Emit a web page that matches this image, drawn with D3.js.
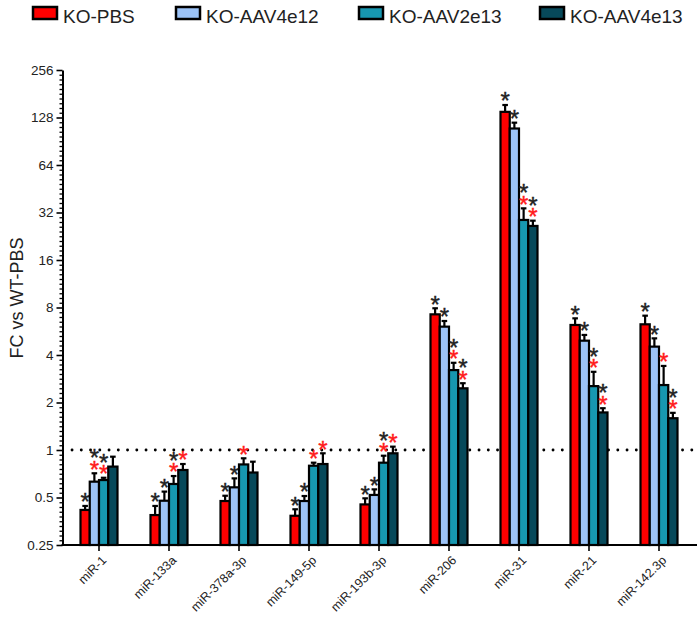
<!DOCTYPE html>
<html>
<head>
<meta charset="utf-8">
<script src="https://cdn.jsdelivr.net/npm/d3@7"></script>
<style>
  html, body { margin: 0; padding: 0; background: #fff; }
  svg { display: block; font-family: "Liberation Sans", Arial, sans-serif; }
</style>
</head>
<body>
<svg id="chart" width="700" height="620"></svg>
<script>
// ---- data ----
const categories = ["miR-1", "miR-133a", "miR-378a-3p", "miR-149-5p", "miR-193b-3p", "miR-206", "miR-31", "miR-21", "miR-142.3p"];
const seriesNames = ["KO-PBS", "KO-AAV4e12", "KO-AAV2e13", "KO-AAV4e13"];
const seriesColors = ["#ff0000", "#9cc3f7", "#1797b0", "#07495a"];

const koPBS      = [0.417, 0.387, 0.475, 0.383, 0.452, 7.24, 139, 6.2, 6.26];
const koAAV4e12  = [0.63, 0.477, 0.58, 0.475, 0.519, 6.05, 109, 4.93, 4.52];
const koAAV2e13  = [0.645, 0.609, 0.81, 0.795, 0.831, 3.21, 28.7, 2.54, 2.58];
const koAAV4e13  = [0.785, 0.747, 0.72, 0.815, 0.953, 2.46, 26.3, 1.73, 1.59];

// upper end of error bars
const errPBS     = [0.442, 0.442, 0.513, 0.421, 0.494, 7.91, 153.6, 6.83, 7.1];
const errAAV4e12 = [0.712, 0.545, 0.661, 0.511, 0.563, 6.57, 118.7, 5.36, 5.1];
const errAAV2e13 = [0.667, 0.684, 0.886, 0.831, 0.92, 3.57, 34.0, 3.13, 3.41];
const errAAV4e13 = [0.907, 0.815, 0.843, 0.953, 1.05, 2.65, 28.4, 1.84, 1.72];

// significance marks: k = black star (vs WT), r = red star (vs KO-PBS); listed top to bottom
const starsPBS     = ["k", "k", "k", "k", "k", "k", "k", "k", "k"];
const starsAAV4e12 = ["kr", "k", "k", "k", "k", "k", "k", "k", "k"];
const starsAAV2e13 = ["kr", "kr", "r", "r", "kr", "kr", "kr", "kr", "r"];
const starsAAV4e13 = ["", "r", "", "r", "r", "kr", "kr", "kr", "kr"];

const yTickValues = [0.25, 0.5, 1, 2, 4, 8, 16, 32, 64, 128, 256];
const refLine = 1;

const values = [koPBS, koAAV4e12, koAAV2e13, koAAV4e13];
const errs = [errPBS, errAAV4e12, errAAV2e13, errAAV4e13];
const stars = [starsPBS, starsAAV4e12, starsAAV2e13, starsAAV4e13];

// ---- drawing ----
const svg = d3.select("#chart");

const y = d3.scaleLog().base(2).domain([0.25, 256]).range([545, 70]);
const x0 = d3.scaleBand().domain(categories).range([64, 694]).padding(0);
const groupW = 37;
const x1 = d3.scaleBand().domain(seriesNames)
  .range([(x0.bandwidth() - groupW) / 2, (x0.bandwidth() + groupW) / 2]).padding(0);

const axisX = 62.5;

// minor ticks
const minorVals = [];
for (let k = 0; k < 10; k++) for (let j = 1; j < 10; j++) minorVals.push(0.25 * Math.pow(2, k + j / 10));

svg.append("g").attr("transform", `translate(${axisX},0)`)
  .call(d3.axisLeft(y).tickValues(minorVals).tickSize(3).tickFormat(""))
  .call(g => g.select(".domain").remove())
  .call(g => g.selectAll("line").attr("stroke", "#000").attr("stroke-width", 1.3));

const yAxisG = svg.append("g").attr("transform", `translate(${axisX},0)`)
  .call(d3.axisLeft(y).tickValues(yTickValues).tickSize(6).tickSizeOuter(0).tickPadding(3)
    .tickFormat(d => String(d)));
yAxisG.select(".domain").attr("stroke", "#000").attr("stroke-width", 2);
yAxisG.selectAll("line").attr("stroke", "#000").attr("stroke-width", 1.6);
yAxisG.selectAll("text").attr("font-size", 13.5).attr("fill", "#222")
  .attr("font-family", "'Liberation Sans', Arial, sans-serif");

// y label
svg.append("text")
  .attr("transform", "translate(23,298) rotate(-90)")
  .attr("text-anchor", "middle")
  .attr("font-size", 18).attr("fill", "#222")
  .text("FC vs WT-PBS");

// dotted reference line
svg.append("line")
  .attr("x1", 72).attr("x2", 700)
  .attr("y1", y(refLine)).attr("y2", y(refLine))
  .attr("stroke", "#000").attr("stroke-width", 2.8)
  .attr("stroke-linecap", "round")
  .attr("stroke-dasharray", "0.1 9.15");

// bars
const groups = svg.append("g").selectAll("g.grp")
  .data(categories).join("g")
  .attr("transform", d => `translate(${x0(d)},0)`);

const starSize = 24;
const starGap = 11.5;

groups.each(function (cat, ci) {
  const g = d3.select(this);
  seriesNames.forEach((s, si) => {
    const v = values[si][ci];
    const e = errs[si][ci];
    const bx = x1(s);
    const bw = x1.bandwidth();
    const cx = bx + bw / 2;
    // error bar
    g.append("line").attr("x1", cx).attr("x2", cx)
      .attr("y1", y(v)).attr("y2", y(e))
      .attr("stroke", "#000").attr("stroke-width", 2.2);
    g.append("line").attr("x1", cx - 2.8).attr("x2", cx + 2.8)
      .attr("y1", y(e)).attr("y2", y(e))
      .attr("stroke", "#000").attr("stroke-width", 2.2);
    // bar
    g.append("rect")
      .attr("x", bx).attr("width", bw)
      .attr("y", y(v)).attr("height", y(0.25) - y(v))
      .attr("fill", seriesColors[si])
      .attr("stroke", "#000").attr("stroke-width", 2.2);
    // stars: one text element per bar, one tspan per mark
    const marks = stars[si][ci].split("");
    if (marks.length) {
      const n = marks.length;
      const bottomCenter = y(e) - 9;
      const topBaseline = bottomCenter - (n - 1) * starGap + starSize * 0.56;
      const t = g.append("text")
        .attr("text-anchor", "middle")
        .attr("font-size", starSize)
        .attr("stroke-width", 0.4);
      marks.forEach((m, mi) => {
        const col = m === "r" ? "#ff1a1a" : "#222";
        t.append("tspan")
          .attr("x", cx)
          .attr("y", topBaseline + mi * starGap)
          .attr("fill", col).attr("stroke", col)
          .text("*");
      });
    }
  });
});

// x axis
const xAxisG = svg.append("g").attr("transform", `translate(0,${y(0.25)})`)
  .call(d3.axisBottom(x0).tickSize(6).tickSizeOuter(0));
xAxisG.select(".domain").remove();
xAxisG.selectAll("line").attr("stroke", "#000").attr("stroke-width", 1.6);
xAxisG.selectAll("text")
  .attr("x", 0).attr("y", 0).attr("dy", "0.35em")
  .attr("transform", "translate(5,13) rotate(-45)")
  .attr("text-anchor", "end")
  .attr("font-size", 12.5).attr("fill", "#222")
  .attr("font-family", "'Liberation Sans', Arial, sans-serif");
svg.append("line")
  .attr("x1", axisX - 1).attr("x2", 697)
  .attr("y1", y(0.25)).attr("y2", y(0.25))
  .attr("stroke", "#000").attr("stroke-width", 2);

// legend
const legendX = [33, 176, 359, 540];
const legend = svg.append("g").selectAll("g")
  .data(seriesNames).join("g")
  .attr("transform", (d, i) => `translate(${legendX[i]},7)`);
legend.append("rect")
  .attr("width", 24).attr("height", 12)
  .attr("fill", (d, i) => seriesColors[i])
  .attr("stroke", "#000").attr("stroke-width", 2.5);
legend.append("text")
  .attr("x", 30).attr("y", 16)
  .attr("font-size", 19).attr("fill", "#222")
  .text(d => d);
</script>
</body>
</html>
